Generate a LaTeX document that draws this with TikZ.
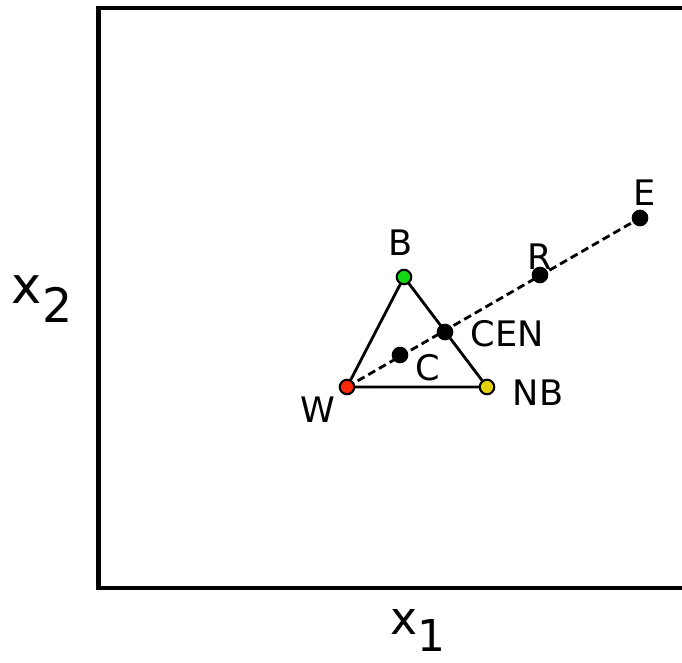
\documentclass[tikz,border=0pt]{standalone}
\usepackage{fontspec}
\setmainfont{DejaVu Sans}
\usepackage{tikz}
\usetikzlibrary{positioning}

\definecolor{wred}{RGB}{250,40,10}
\definecolor{bgreen}{RGB}{20,215,20}
\definecolor{nbyellow}{RGB}{230,210,10}

\tikzset{
  pt/.style={circle,draw=black,line width=1.2pt,inner sep=0pt,minimum size=0.29cm},
  lbl/.style={font=\fontsize{20}{24}\selectfont},
  axlbl/.style={anchor=base west,inner sep=0pt}
}

\begin{document}
\begin{tikzpicture}[x=0.02cm,y=-0.02cm]
  \useasboundingbox (0,0) rectangle (682,662);
  \clip (0,0) rectangle (682,662);
  \draw[line width=2.8pt] (740,8) -- (98.5,8) -- (98.5,588) -- (740,588);
  % points of the simplex
  \coordinate (W) at (347,387);
  \coordinate (B) at (404,277);
  \coordinate (NB) at (487,387);
  \coordinate (C) at (400,355);
  \coordinate (CEN) at (445,332);
  \coordinate (R) at (540,275);
  \coordinate (E) at (640,218);
  \draw[line width=1.6pt] (W) -- (B) -- (NB) -- cycle;
  \draw[line width=1.6pt,dash pattern=on 4.5pt off 2.5pt] (W) -- (E);
  \node[pt,fill=wred] (w) at (W) {};
  \node[pt,fill=bgreen] (b) at (B) {};
  \node[pt,fill=nbyellow] (nb) at (NB) {};
  \node[pt,fill=black] (c) at (C) {};
  \node[pt,fill=black] (cen) at (CEN) {};
  \node[pt,fill=black] (r) at (R) {};
  \node[pt,fill=black] (e) at (E) {};
  \node[lbl] (wl) at (318,410) {W};
  \node[lbl] (bl) at (401,243) {B};
  \node[lbl] (nbl) at (538,393) {NB};
  \node[lbl] (cl) at (428,368) {C};
  \node[lbl] (cenl) at (507,334) {CEN};
  \node[lbl] (rl) at (540,257) {R};
  \node[lbl] (el) at (645,193) {E};
  % axis names
  \node[axlbl,font=\fontsize{29}{34}\selectfont] (x2) at (11.5,303)
    {x\raisebox{-0.4cm}{\fontsize{27}{30}\selectfont 2}};
  \node[axlbl,font=\fontsize{26}{30}\selectfont] (x1) at (390.5,634)
    {x\raisebox{-0.34cm}{\fontsize{25}{30}\selectfont 1}};
\end{tikzpicture}
\end{document}
